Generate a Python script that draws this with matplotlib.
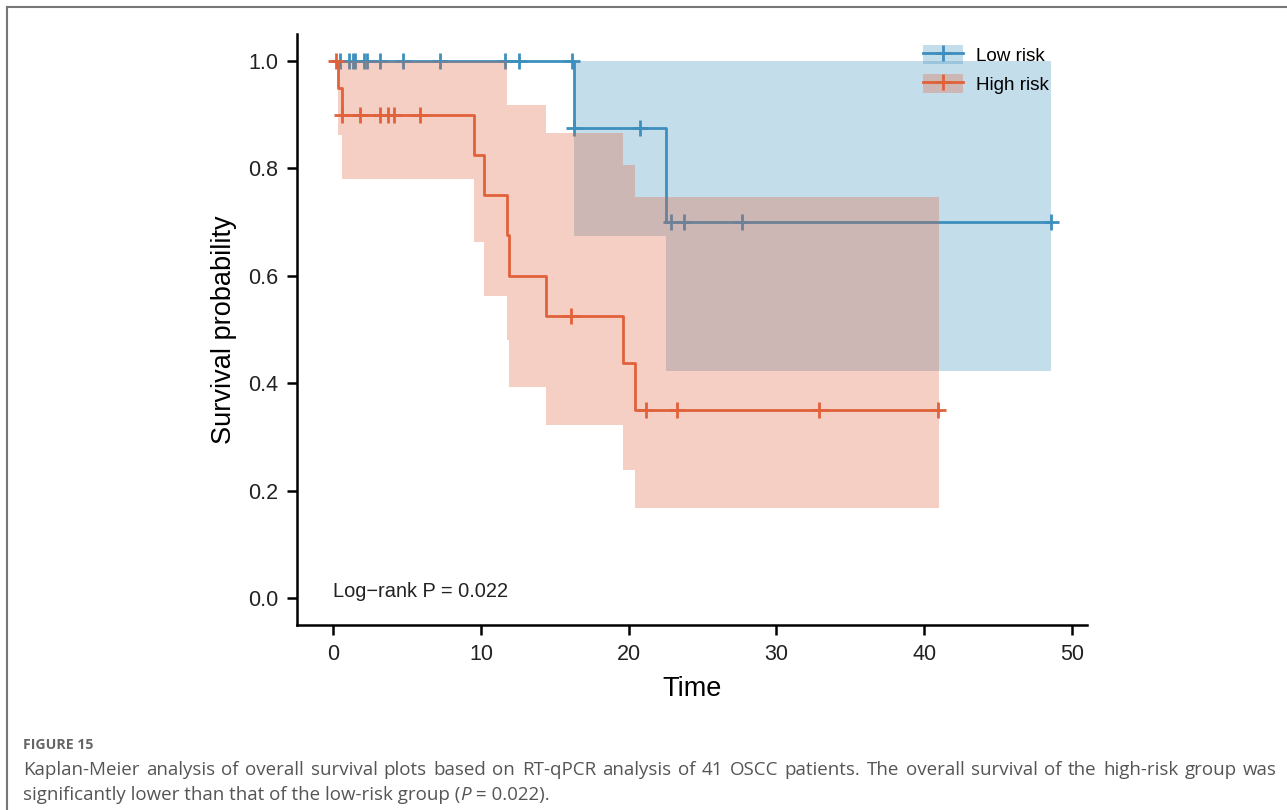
import numpy as np
import matplotlib
matplotlib.use("Agg")
import matplotlib.pyplot as plt
from matplotlib.patches import Patch
from matplotlib.lines import Line2D

# low risk group (Kaplan-Meier steps + confidence band)
low_times = [0, 16.3, 22.5, 48.6]
low_surv = [1.0, 0.875, 0.7, 0.7]
low_upper = [1.0, 1.0, 1.0, 1.0]
low_lower = [1.0, 0.674, 0.423, 0.423]
low_censor = [0.47, 1.1, 1.33, 1.5, 2.1, 2.3, 3.2, 4.7, 7.2, 11.6, 12.6,
              16.2, 16.3, 20.8, 22.9, 23.75, 27.7, 48.6]

# high risk group
high_times = [0, 0.3, 0.6, 9.55, 10.2, 11.8, 11.9, 14.4, 19.6, 20.45, 41.0]
high_surv = [1.0, 0.95, 0.9, 0.825, 0.75, 0.675, 0.6, 0.525, 0.4375, 0.35, 0.35]
high_upper = [1.0, 1.0, 1.0, 1.0, 1.0, 0.918, 0.918, 0.866, 0.806, 0.746, 0.746]
high_lower = [1.0, 0.862, 0.78, 0.662, 0.562, 0.48, 0.393, 0.322, 0.238, 0.168, 0.168]
high_censor = [0.2, 0.6, 1.8, 3.2, 3.7, 4.1, 5.9, 16.1, 21.2, 23.3, 32.9, 40.95]

x_ticks = [0, 10, 20, 30, 40, 50]
y_ticks = [0.0, 0.2, 0.4, 0.6, 0.8, 1.0]

blue = '#3d8fbe'
orange = '#e0623a'

W, H = 1287, 810
fig = plt.figure(figsize=(W / 100, H / 100), dpi=100)
ax = fig.add_axes([297 / W, 1 - 625 / H, 790 / W, 591 / H])

def surv_at(times, surv, t):
    idx = np.searchsorted(times, t, side='right') - 1
    return np.array(surv)[idx]

def draw_group(times, surv, lower, upper, censor, color, z):
    ax.fill_between(times, lower, upper, step='post', color=color, alpha=0.3, lw=0, zorder=z)
    ax.step(times, surv, where='post', color=color, lw=2, zorder=z + 0.5)
    ax.plot(censor, surv_at(times, surv, censor), ls='none', marker='+', ms=12, mew=2,
            color=color, zorder=z + 0.5)

draw_group(low_times, low_surv, low_lower, low_upper, low_censor, blue, 1)
draw_group(high_times, high_surv, high_lower, high_upper, high_censor, orange, 3)

ax.set_xlim(-2.45, 51.03)
ax.set_ylim(-0.05, 1.05)
ax.set_xticks(x_ticks)
ax.set_yticks(y_ticks)
ax.set_yticklabels(['%.1f' % v for v in y_ticks])
for s in ['top', 'right']:
    ax.spines[s].set_visible(False)
for s in ['left', 'bottom']:
    ax.spines[s].set_linewidth(1.8)
ax.tick_params(axis='both', length=7.5, width=1.8, labelsize=15.5, pad=6,
               labelcolor='#222222')
for lab in ax.get_xticklabels() + ax.get_yticklabels():
    lab.set_family('Liberation Sans')
ax.set_xlabel('Time', fontsize=19.5, family='Liberation Sans', labelpad=8)
ax.set_ylabel('Survival probability', fontsize=19.5, family='Liberation Sans', labelpad=8)

ax.text(0, 0.012, 'Log\u2212rank P = 0.022', fontsize=14.4, family='Liberation Sans',
        ha='left', va='center', color='#222222')

handles = [(Patch(facecolor=blue, alpha=0.3, lw=0),
            Line2D([], [], color=blue, lw=2, marker='+', ms=12, mew=2)),
           (Patch(facecolor=orange, alpha=0.3, lw=0),
            Line2D([], [], color=orange, lw=2, marker='+', ms=12, mew=2))]
ax.legend(handles, ['Low risk', 'High risk'], loc='upper left',
          bbox_to_anchor=(923 / W, 1 - 45 / H), bbox_transform=fig.transFigure,
          frameon=False, borderpad=0, borderaxespad=0, handlelength=2.1,
          handleheight=1.2, labelspacing=0.45, handletextpad=0.7,
          prop={'family': 'Liberation Sans', 'size': 13.6}, numpoints=1)

# figure border (top and left)
fig.add_artist(Line2D([7 / W, 7 / W], [0, 1 - 7 / H], transform=fig.transFigure,
                      color='#777777', lw=1.5))
fig.add_artist(Line2D([7 / W, 1], [1 - 7 / H, 1 - 7 / H], transform=fig.transFigure,
                      color='#777777', lw=1.5))

# caption
cap_color = '#555555'
cap_size = 13.5
fig.text(23 / W, 1 - 749 / H, 'FIGURE 15', fontsize=10.2, fontweight='bold',
         family='Open Sans', color='#666666', va='baseline')

renderer = fig.canvas.get_renderer()
line1 = ('Kaplan-Meier analysis of overall survival plots based on RT-qPCR analysis '
         'of 41 OSCC patients. The overall survival of the high-risk group was').split()
objs = [fig.text(0, 1 - 775 / H, w, fontsize=cap_size, family='Open Sans',
                 color=cap_color, va='baseline') for w in line1]
widths = [o.get_window_extent(renderer).width for o in objs]
gap = (1277 - 23 - sum(widths)) / (len(objs) - 1)
x = 23
for o, w in zip(objs, widths):
    o.set_x(x / W)
    x += w + gap

pieces = [('significantly lower than that of the low-risk group (', 'normal'),
          ('P', 'italic'), (' = 0.022).', 'normal')]
x = 23
for txt, st in pieces:
    o = fig.text(x / W, 1 - 800 / H, txt, fontsize=cap_size, family='Open Sans',
                 style=st, color=cap_color, va='baseline')
    x += o.get_window_extent(renderer).width

fig.savefig('out.png', dpi=100)
